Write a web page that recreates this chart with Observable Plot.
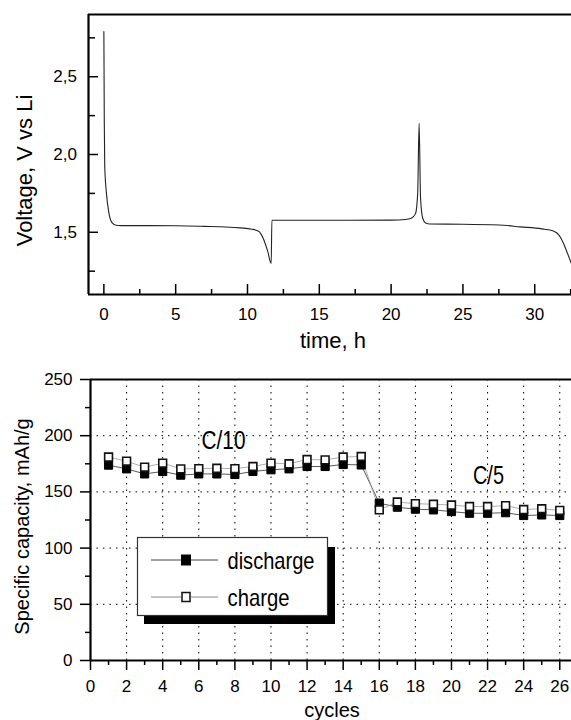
<!DOCTYPE html>
<html>
<head>
<meta charset="utf-8">
<script src="https://cdn.jsdelivr.net/npm/d3@7"></script>
<script src="https://cdn.jsdelivr.net/npm/@observablehq/plot@0.6"></script>
<style>
  html, body { margin: 0; padding: 0; background: white; }
  #wrap { position: relative; width: 571px; height: 720px; overflow: hidden; background: white; }
  #wrap svg { position: absolute; left: 0; }
</style>
</head>
<body>
<div id="wrap"></div>
<script>
// ---------- Top panel data: voltage vs time ----------
const time = [0, 0.03, 0.06, 0.18, 0.34, 0.58, 0.85, 1.2, 3, 5, 7, 8.5, 9.5, 10.3, 10.8, 11.1, 11.4, 11.65,
  11.7, 14, 17, 20, 21.0, 21.4, 21.7, 21.85, 21.95, 22.05, 22.2, 22.4, 22.7, 25, 27.5, 29, 30.5, 31.3, 31.7, 32.0, 32.3, 32.55];
const voltage = [2.79, 2.2, 1.93, 1.75, 1.63, 1.56, 1.545, 1.543, 1.543, 1.542, 1.538, 1.534, 1.528, 1.52, 1.505, 1.46, 1.38, 1.30,
  1.577, 1.577, 1.577, 1.578, 1.582, 1.59, 1.62, 1.75, 2.2, 1.72, 1.59, 1.56, 1.553, 1.552, 1.547, 1.535, 1.522, 1.508, 1.48, 1.43, 1.36, 1.30];
const xMajorTop = [0, 5, 10, 15, 20, 25, 30];
const xMinorTop = [2.5, 7.5, 12.5, 17.5, 22.5, 27.5, 32.5];
const yMajorTop = [1.5, 2.0, 2.5];
const yMinorTop = [1.25, 1.75, 2.25, 2.75];

// ---------- Bottom panel data: capacity vs cycles ----------
const cycles = [1,2,3,4,5,6,7,8,9,10,11,12,13,14,15,16,17,18,19,20,21,22,23,24,25,26];
const discharge = [173.8,170.5,166,168.2,164.9,166,166,165.5,168.2,169.7,170.5,172.6,172.6,174.4,174,140,136.4,134.6,134,132.5,131,131,131.5,129,129.5,129];
const charge = [181,177.3,172,175.6,170.5,170.7,171,170.7,172.6,175.6,175,178.8,178.5,181,181.5,134,141,139.5,139,138.3,137,137,137.8,134.3,135,133.5];
const xMajorBottom = [0,2,4,6,8,10,12,14,16,18,20,22,24,26];
const xMinorBottom = [1,3,5,7,9,11,13,15,17,19,21,23,25];
const xGridBottom = [2,4,6,8,10,12,14,16,18,20,22,24,26];
const yMajorBottom = [0,50,100,150,200,250];
const yMinorBottom = [25,75,125,175,225];
const yGridBottom = [50,100,150,200];
const annotations = ["C/10", "C/5"];
const annX = [7.37, 22.05];
const annY = [195.7, 164.6];
const annWidth = [44, 31];
const legendLabels = ["discharge", "charge"];
const legendWidth = [87, 62];

const fontReg = "'Liberation Sans', Arial, Helvetica, sans-serif";

const vData = time.map((t, i) => ({t, v: voltage[i]}));
const capData = cycles.map((c, i) => ({cycle: c, discharge: discharge[i], charge: charge[i]}));

const xTop = [-1.07, 32.56];
const yTop = [1.1, 2.9];

const topPlot = Plot.plot({
  width: 571, height: 360,
  marginTop: 14, marginBottom: 66, marginLeft: 88, marginRight: 0,
  x: {domain: xTop},
  y: {domain: yTop},
  style: {background: "transparent", color: "black", fontFamily: fontReg, overflow: "visible"},
  marks: [
    Plot.axisX(xMinorTop, {tickSize: -5, tickFormat: () => "", strokeWidth: 1.5, label: null}),
    Plot.axisX(xMajorTop, {tickSize: -10, tickPadding: 23, fontSize: 17, strokeWidth: 1.5, label: null}),
    Plot.axisY(yMinorTop, {tickSize: -7, tickFormat: () => "", strokeWidth: 1.5, label: null}),
    Plot.axisY(yMajorTop, {tickSize: -10, tickPadding: 21.5, fontSize: 17, strokeWidth: 1.5, label: null,
      tickFormat: d => d.toFixed(1).replace(".", ",")}),
    Plot.line(vData, {x: "t", y: "v", curve: "monotone-x", stroke: "#222", strokeWidth: 1.1}),
    Plot.ruleY([yTop[1]], {strokeWidth: 2.2}),
    Plot.ruleY([yTop[0]], {strokeWidth: 2.2}),
    Plot.ruleX([xTop[0]], {strokeWidth: 2.2}),
    Plot.text(["Voltage, V vs Li"], {text: d => d, frameAnchor: "left", textAnchor: "middle", lineAnchor: "middle",
      rotate: -90, dx: -64, dy: 16, fontSize: 22}),
    Plot.text(["time, h"], {text: d => d, frameAnchor: "bottom", textAnchor: "middle", lineAnchor: "middle",
      dx: 3, dy: 46, fontSize: 22})
  ]
});
topPlot.style.top = "0px";

const xBot = [0, 26.65];
const yBot = [0, 250];

const bottomPlot = Plot.plot({
  width: 571, height: 360,
  marginTop: 19, marginBottom: 60, marginLeft: 90, marginRight: 0,
  x: {domain: xBot},
  y: {domain: yBot},
  style: {background: "transparent", color: "black", fontFamily: fontReg, overflow: "visible"},
  marks: [
    Plot.gridX(xGridBottom, {stroke: "black", strokeOpacity: 1, strokeWidth: 1, strokeDasharray: "1.5,5"}),
    Plot.gridY(yGridBottom, {stroke: "black", strokeOpacity: 1, strokeWidth: 1, strokeDasharray: "1.5,5"}),
    Plot.axisX(xMinorBottom, {tickSize: 5, tickFormat: () => "", strokeWidth: 1.5, label: null}),
    Plot.axisX(xMajorBottom, {tickSize: 10, tickPadding: 9, fontSize: 17, strokeWidth: 1.5, label: null}),
    Plot.axisY(yMinorBottom, {tickSize: 5, tickFormat: () => "", strokeWidth: 1.5, label: null}),
    Plot.axisY(yMajorBottom, {tickSize: 10, tickPadding: 8, fontSize: 17, strokeWidth: 1.5, label: null}),
    Plot.line(capData, {x: "cycle", y: "discharge", stroke: "#444", strokeWidth: 0.9}),
    Plot.line(capData, {x: "cycle", y: "charge", stroke: "#999", strokeWidth: 0.8}),
    Plot.dot(capData, {x: "cycle", y: "discharge", symbol: "square", r: 4.6, fill: "black", stroke: "black", strokeWidth: 1}),
    Plot.dot(capData, {x: "cycle", y: "charge", symbol: "square", r: 4.4, fill: "white", stroke: "#111", strokeWidth: 1.6}),
    Plot.ruleY([yBot[1]], {strokeWidth: 2.2}),
    Plot.ruleY([yBot[0]], {strokeWidth: 2.2}),
    Plot.ruleX([xBot[0]], {strokeWidth: 2.2}),
    Plot.text(annotations, {x: (d, i) => annX[i], y: (d, i) => annY[i], text: d => d, fontSize: 26, className: "ann"}),
    Plot.text(["Specific capacity, mAh/g"], {text: d => d, frameAnchor: "left", textAnchor: "middle", lineAnchor: "middle",
      rotate: -90, dx: -68, dy: 6.5, fontSize: 20}),
    Plot.text(["cycles"], {text: d => d, frameAnchor: "bottom", textAnchor: "middle", lineAnchor: "middle",
      dx: 1, dy: 50, fontSize: 20})
  ]
});
bottomPlot.style.top = "360px";

// condensed look for the annotation labels (kept as real text)
d3.select(bottomPlot).selectAll("text").each(function () {
  const i = annotations.indexOf(this.textContent);
  if (i >= 0) {
    this.setAttribute("textLength", annWidth[i]);
    this.setAttribute("lengthAdjust", "spacingAndGlyphs");
  }
});

const wrap = document.getElementById("wrap");
wrap.appendChild(topPlot);
wrap.appendChild(bottomPlot);

// ---------- Legend (overlay, page coordinates) ----------
const ns = "http://www.w3.org/2000/svg";
const leg = document.createElementNS(ns, "svg");
leg.setAttribute("width", 571);
leg.setAttribute("height", 720);
leg.style.top = "0px";
leg.style.pointerEvents = "none";
function el(tag, attrs, text) {
  const e = document.createElementNS(ns, tag);
  for (const k in attrs) e.setAttribute(k, attrs[k]);
  if (text != null) e.textContent = text;
  leg.appendChild(e);
  return e;
}
el("rect", {x: 144, y: 547, width: 191, height: 77, fill: "black"});
el("rect", {x: 137.5, y: 537.5, width: 190, height: 78, fill: "white", stroke: "#333", "stroke-width": 1.2});
const rowsY = [560, 597];
const lineCol = ["#444", "#888"];
legendLabels.forEach((lab, i) => {
  const y = rowsY[i];
  el("line", {x1: 151, x2: 181, y1: y, y2: y, stroke: lineCol[i], "stroke-width": 1});
  el("line", {x1: 191, x2: 218, y1: y, y2: y, stroke: lineCol[i], "stroke-width": 1});
  if (i === 0) el("rect", {x: 181.5, y: y - 5, width: 9, height: 10, fill: "black", stroke: "black", "stroke-width": 1});
  else el("rect", {x: 182, y: y - 4.5, width: 8, height: 9, fill: "white", stroke: "#111", "stroke-width": 1.5});
  el("text", {x: 227.5, y: y + 8.5, "font-family": fontReg, "font-size": 24, fill: "black",
    textLength: legendWidth[i], lengthAdjust: "spacingAndGlyphs"}, lab);
});
wrap.appendChild(leg);
</script>
</body>
</html>
